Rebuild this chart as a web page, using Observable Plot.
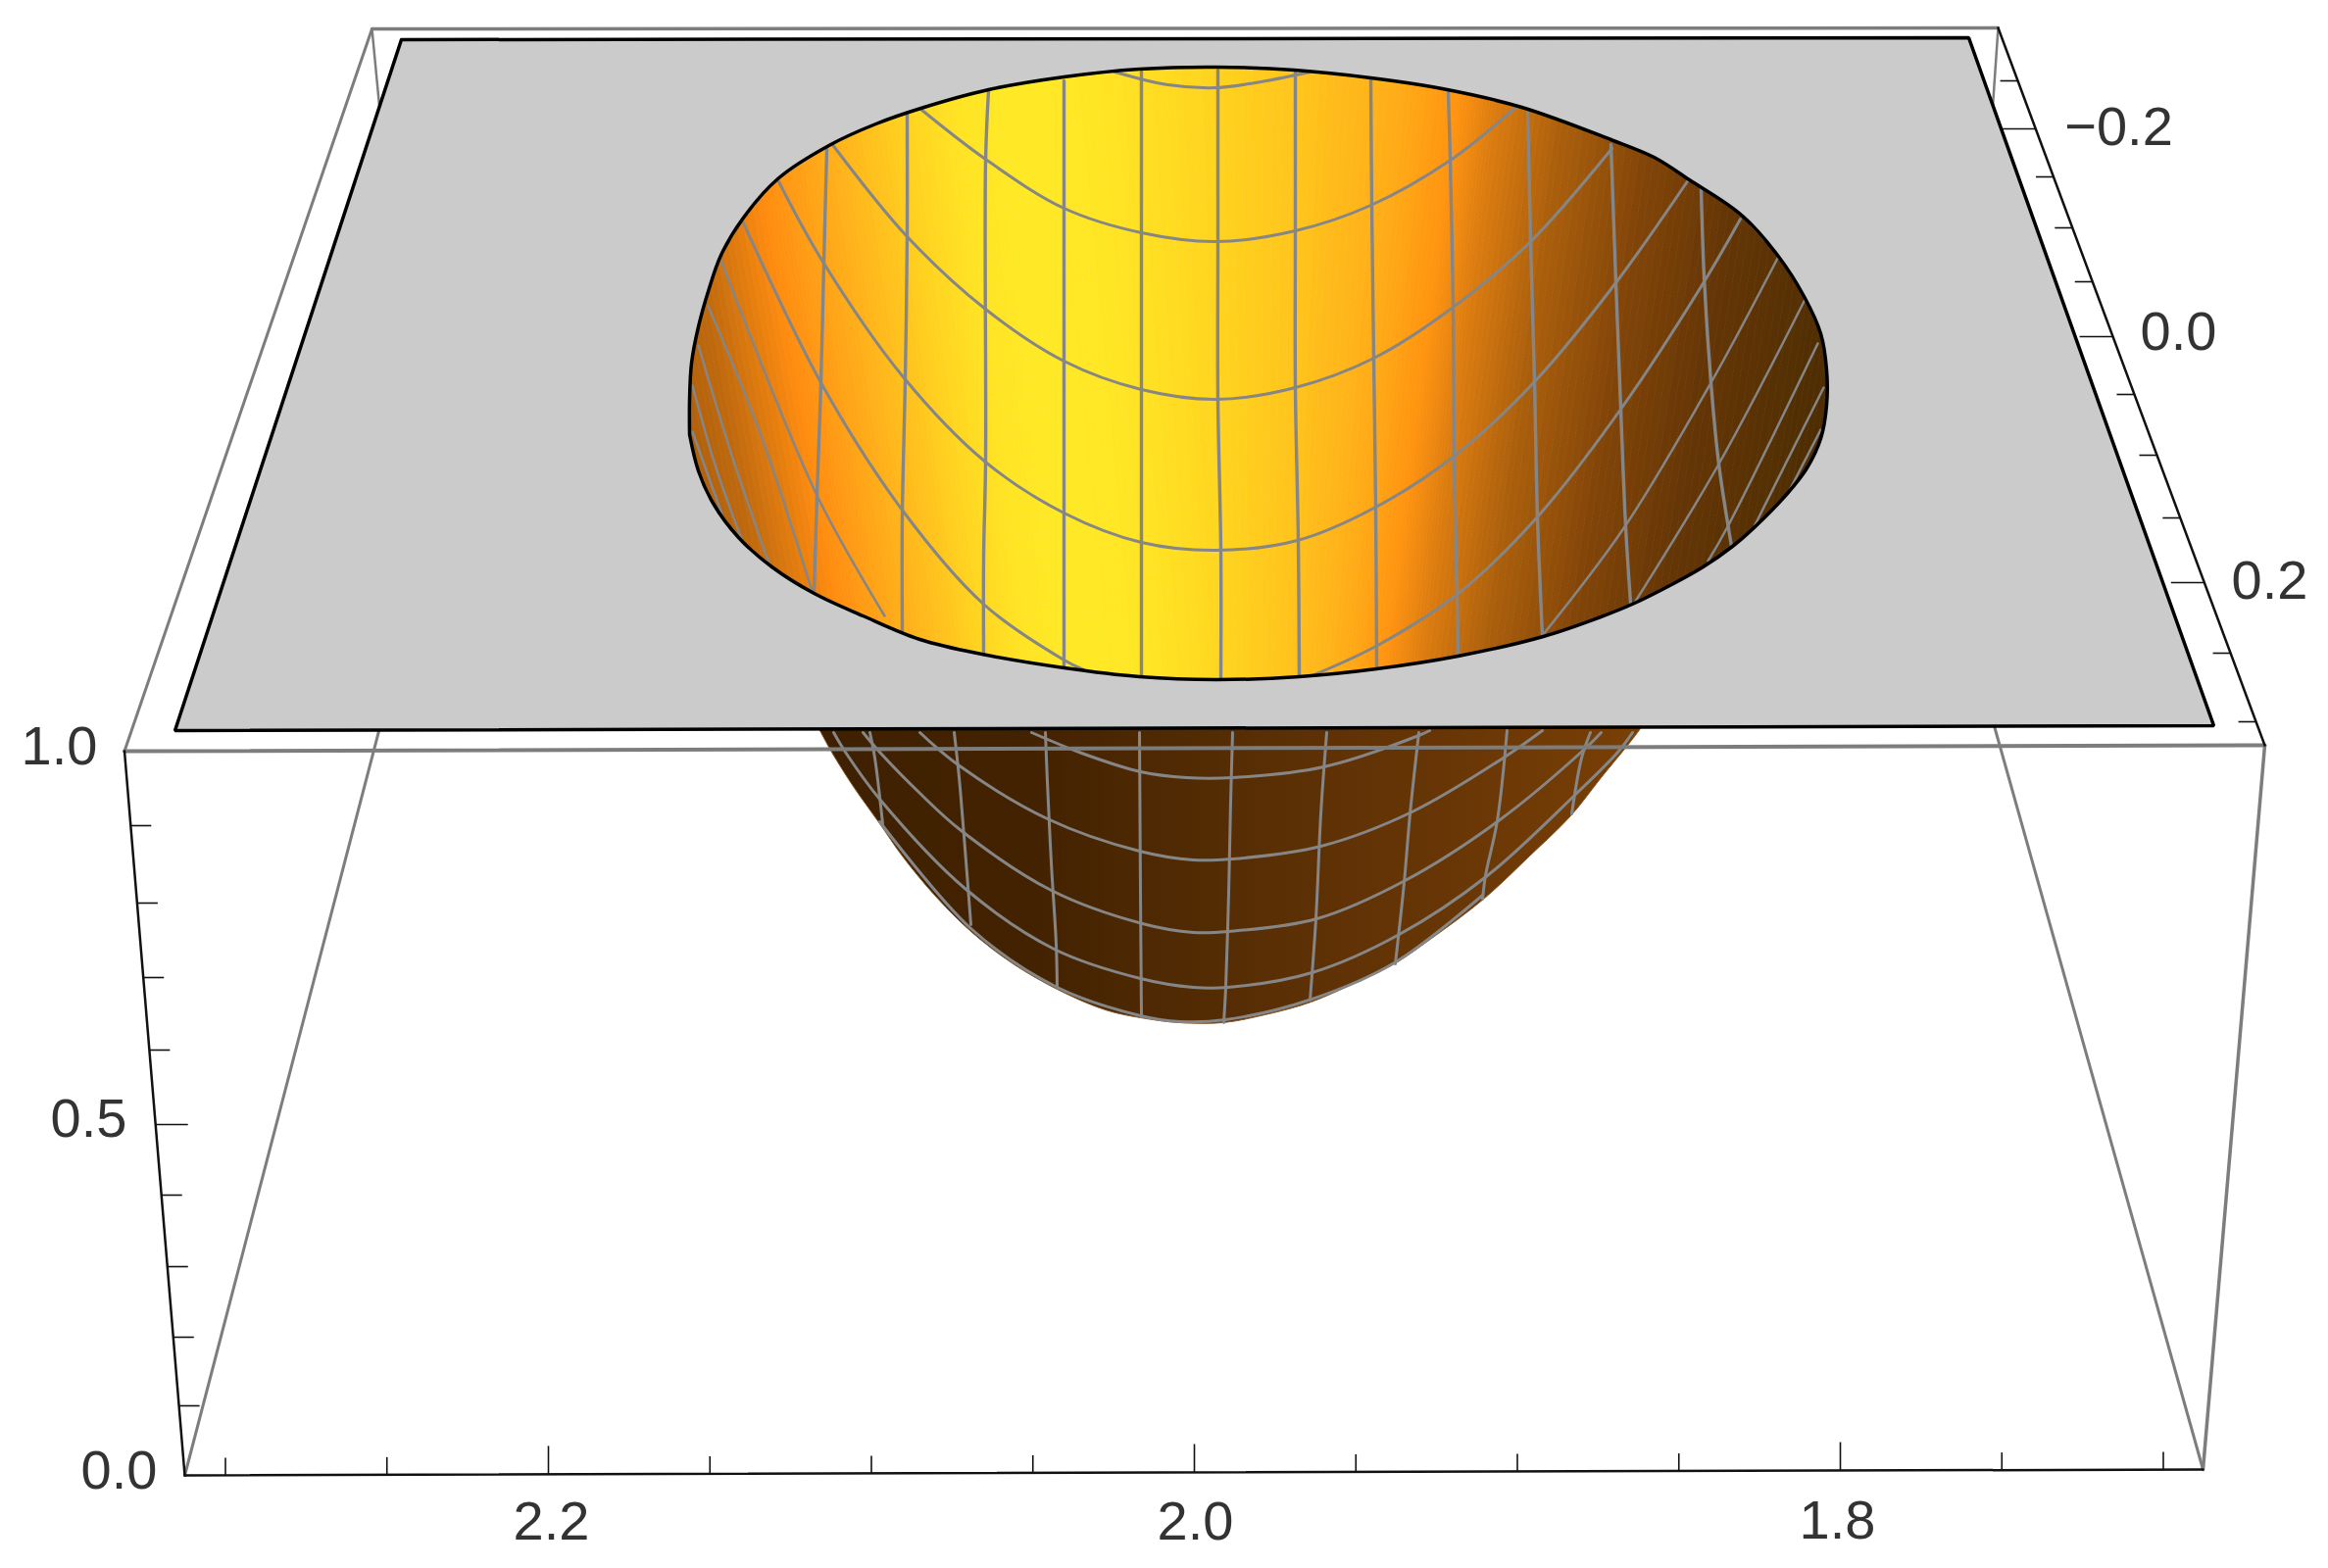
<!DOCTYPE html>
<html>
<head>
<meta charset="utf-8">
<script src="https://cdn.jsdelivr.net/npm/d3@7"></script>
<script src="https://cdn.jsdelivr.net/npm/@observablehq/plot@0.6"></script>
<style>html,body{margin:0;padding:0;background:#fff}svg{display:block}</style>
</head>
<body>
<div id="chart"></div>
<script>
const W = 2375, H = 1600;
const cornerFrontTopLeft = [126.5, 766], cornerFrontTopRight = [2310, 760];
const cornerFrontBottomLeft = [188, 1505], cornerFrontBottomRight = [2247, 1499];
const cornerBackTopLeft = [379, 29], cornerBackTopRight = [2038, 28];
const cornerBackBottomLeft = [431, 573], cornerBackBottomRight = [1998, 612];
const planeCorners = [[409, 40], [2008, 38], [2258, 740], [178, 745]];

// axis tick values and where they sit on their edges
const xMinorTicks = [2.3, 2.25, 2.15, 2.1, 2.05, 1.95, 1.9, 1.85, 1.75, 1.7];
const xMajorTicks = [2.2, 2.0, 1.8];
const zTickValues = [0.1, 0.2, 0.3, 0.4, 0.5, 0.6, 0.7, 0.8, 0.9];
const zTickRows = [1434, 1364, 1292, 1219, 1147, 1071, 997, 921, 842];
const yTickValues = [-0.25, -0.2, -0.15, -0.1, -0.05, 0, 0.05, 0.1, 0.15, 0.2, 0.25, 0.3];
const yTickRows = [82, 131, 180, 232, 287, 343, 402, 464, 528, 594, 666, 736];

const xLabels = [["2.2", 562, 1553], ["2.0", 1219, 1553], ["1.8", 1874, 1552]];
const zLabels = [["1.0", 60, 762], ["0.5", 90, 1142], ["0.0", 121, 1501]];
const yLabels = [["\u22120.2", 2161, 130], ["0.0", 2222, 339], ["0.2", 2315, 593]];

// hole in the gray plane
const rim = [[703,443],[712,480],[727,513],[753,548],[787,578],[830,605],[880,628],[938,652],[1001,667],[1085,681],[1162,690],[1240,693],[1325,690],[1404,682],[1487,669],[1574,649],[1630,630],[1667,615],[1703,597],[1737,578],[1767,557],[1790,537],[1823,503],[1843,477],[1857,447],[1863,413],[1863,377],[1857,340],[1840,302],[1813,260],[1775,218],[1723,183],[1687,160],[1643,142],[1552,109],[1476,91],[1398,79],[1320,71],[1240,68],[1162,70],[1085,78],[1008,91],[939,110],[893,126],[847,147],[793,182],[757,223],[735,260],[722,297],[712,333],[705,370],[703,407],[703,443]];

// upper bowl colour bands: position at mid height, lean, colour
const bandX = [670,735,810,855,910,965,1010,1060,1140,1220,1320,1396,1450,1490,1557,1646,1736,1830,1900];
const bandLean = [.19,.185,.178,.165,.15,.13,.12,.11,.09,.05,-.03,-.09,-.128,-.13,-.14,-.15,-.16,-.17,-.17];
const bandColor = ["#a85a0a","#c06a0e","#ff8c10","#ffa217","#ffbc1c","#ffd520","#ffe424","#ffe926","#ffe625","#ffd820","#ffc41c","#ffad18","#ff9410","#dc7c10","#ab5f0c","#824508","#653606","#533003","#4a2903"];

// lower bowl
const bowl = [[825,725],[837,747],[848,767],[870,802],[897,840],[920,873],[953,913],[990,950],[1033,983],[1080,1010],[1127,1030],[1163,1038],[1203,1043],[1247,1043],[1290,1035],[1337,1022],[1387,1000],[1422,983],[1460,957],[1513,917],[1560,873],[1602,832],[1633,793],[1660,760],[1673,743],[1685,725]];
const bowlStopX = [830, 1050, 1200, 1320, 1500, 1680];
const bowlStopColor = ["#3e2000", "#432201", "#502a03", "#5c3005", "#6a3705", "#7a4006"];

// upper bowl mesh
const upperVerticals = [
 [[843,152],[840,267],[837,390],[833,505],[830,603]],
 [[925,115],[925,239],[923,387],[920,526],[920,643]],
 [[1008,92],[1005,164],[1005,471],[1003,568],[1003,667]],
 [[1085,82],[1085,681]],
 [[1164,73],[1164,688]],
 [[1242,71],[1242,246],[1242,406],[1245,561],[1245,692]],
 [[1321,73],[1321,235],[1321,395],[1324,551],[1325,690]],
 [[1398,79],[1399,210],[1401,366],[1403,517],[1404,681]],
 [[1477,92],[1479,162],[1482,313],[1483,465],[1486,606],[1487,669]],
 [[1558,113],[1561,246],[1565,389],[1568,528],[1573,648]],
 [[1643,147],[1648,288],[1653,417],[1658,537],[1663,615]],
 [[1735,192],[1738,282],[1745,390],[1753,473],[1766,557]]
];
const upperCurves = [
 [[1137,73],[1191,86],[1240,89],[1280,84],[1336,73]],
 [[939,111],[1005,162],[1085,212],[1164,237],[1240,246],[1321,235],[1398,209],[1479,163],[1546,109]],
 [[848,146],[925,241],[1005,315],[1085,368],[1164,397],[1240,407],[1321,395],[1401,365],[1482,313],[1561,246],[1644,151]],
 [[793,183],[838,265],[920,383],[1005,471],[1085,523],[1164,553],[1240,561],[1323,551],[1403,517],[1483,465],[1565,389],[1648,288],[1722,183]],
 [[757,225],[837,390],[920,520],[1003,616],[1085,673],[1105,683]],
 [[1338,689],[1405,658],[1486,606],[1567,528],[1653,417],[1738,287],[1775,223]]
];
const upperOuterCurves = [
 [[735,265],[833,505],[902,628]],
 [[722,312],[777,447],[828,603]],
 [[712,352],[747,467],[785,577]],
 [[706,393],[730,477],[757,552]],
 [[706,440],[737,527]],
 [[1573,648],[1657,537],[1745,390],[1813,263]],
 [[1668,613],[1753,473],[1841,305]],
 [[1742,572],[1762,537],[1854,350]],
 [[1790,535],[1860,395]],
 [[1825,500],[1857,438]]
];

// lower bowl mesh
const lowerVerticals = [
 [[887,747],[892,773],[900,840]],
 [[973,747],[978,793],[983,853],[990,943]],
 [[1066,747],[1068,797],[1072,880],[1077,963],[1078,1008]],
 [[1162,747],[1163,910],[1164,1037]],
 [[1257,747],[1255,817],[1253,910],[1250,1007],[1248,1043]],
 [[1353,747],[1347,830],[1342,937],[1336,1020]],
 [[1447,747],[1438,830],[1432,900],[1423,983]],
 [[1537,745],[1527,837],[1515,893],[1512,917]],
 [[1622,747],[1613,773],[1603,830]]
];
const lowerCurves = [
 [[1052,747],[1103,768],[1163,787],[1210,793],[1257,793],[1350,782],[1447,750],[1458,745]],
 [[938,747],[977,780],[1068,835],[1162,868],[1217,877],[1257,876],[1347,863],[1440,828],[1533,773],[1573,745]],
 [[880,747],[897,767],[937,808],[980,847],[1072,908],[1165,942],[1217,951],[1253,950],[1343,937],[1433,898],[1527,838],[1617,763],[1633,747]],
 [[850,747],[862,767],[897,815],[985,907],[1075,968],[1163,998],[1217,1007],[1252,1007],[1338,992],[1427,953],[1517,893],[1607,810],[1650,767],[1665,747]],
 [[897,838],[990,947],[1078,1007],[1163,1036],[1203,1042],[1250,1040],[1335,1020],[1422,982],[1512,913]]
];

// ---- tables built from the arrays above
const MIDROW = 380, HALF = 320, STEPS = 12;
const xTickAt = d3.scaleLinear([2.0, 1.8], [1218, 1877]);
const rowOnEdge = (a, b) => y => a[0] + (b[0] - a[0]) * (y - a[1]) / (b[1] - a[1]);
const bottomRow = x => cornerFrontBottomLeft[1] + (cornerFrontBottomRight[1] - cornerFrontBottomLeft[1]) * (x - cornerFrontBottomLeft[0]) / (cornerFrontBottomRight[0] - cornerFrontBottomLeft[0]);
const zEdge = rowOnEdge(cornerFrontTopLeft, cornerFrontBottomLeft);
const yEdge = rowOnEdge(cornerBackTopRight, cornerFrontTopRight);

const bandPolys = [];
bandX.slice(0, -1).forEach((x, i) => {
  const mix = d3.interpolateRgb(bandColor[i], bandColor[i + 1]);
  for (let k = 0; k < STEPS; ++k) {
    const p = k / STEPS, q = (k + 1) / STEPS;
    const at = t => [x + (bandX[i + 1] - x) * t, bandLean[i] + (bandLean[i + 1] - bandLean[i]) * t];
    const [xa, la] = at(p), [xb, lb] = at(q);
    const id = `${i}-${k}`, c = d3.color(mix((p + q) / 2)).formatHex();
    bandPolys.push(
      {id, c, x: xa - HALF * la, y: MIDROW - HALF}, {id, c, x: xb - HALF * lb, y: MIDROW - HALF},
      {id, c, x: xb + HALF * lb, y: MIDROW + HALF}, {id, c, x: xa + HALF * la, y: MIDROW + HALF});
  }
});

const px = d => d[0], py = d => d[1];
const curves = (list, stroke, strokeWidth, curve = "catmull-rom") =>
  list.map(pts => Plot.line(pts, {x: px, y: py, stroke, strokeWidth, curve}));
const edge = (a, b, stroke, strokeWidth) => Plot.line([a, b], {x: px, y: py, stroke, strokeWidth});

const planeHole = [planeCorners[0], planeCorners[1], planeCorners[2], planeCorners[3], ...rim, planeCorners[3]];
const GRID = "#868686", EDGE = "#7d7d7d", INK = "#111";

const labels = [...xLabels, ...zLabels, ...yLabels];

const bowlGradient = () => {
  const g = d3.create("svg:linearGradient").attr("id", "bowlFill")
    .attr("gradientUnits", "userSpaceOnUse").attr("x1", 0).attr("x2", W).attr("y1", 0).attr("y2", 0);
  bowlStopX.forEach((x, i) => g.append("stop").attr("offset", x / W).attr("stop-color", bowlStopColor[i]));
  return g.node();
};

const chart = Plot.plot({
  width: W, height: H, margin: 0,
  x: {domain: [0, W], axis: null},
  y: {domain: [H, 0], axis: null},
  color: {type: "identity"},
  style: {background: "#fff", overflow: "visible"},
  marks: [
    bowlGradient,
    // hidden back edges of the box
    edge(cornerBackTopLeft, cornerBackBottomLeft, EDGE, 2.5),
    edge(cornerBackTopRight, cornerBackBottomRight, EDGE, 2.5),
    edge(cornerFrontBottomLeft, cornerBackBottomLeft, EDGE, 3),
    edge(cornerFrontBottomRight, cornerBackBottomRight, EDGE, 3),
    // the surface
    Plot.line(bandPolys, {x: "x", y: "y", z: "id", fill: "c", stroke: "c", strokeWidth: 1}),
    ...curves(upperVerticals, GRID, 3.4),
    ...curves(upperCurves, GRID, 3),
    ...curves(upperOuterCurves, GRID, 2.5),
    Plot.line(bowl, {x: px, y: py, curve: "catmull-rom", fill: "url(#bowlFill)", stroke: "#8a5a2c", strokeWidth: 1}),
    ...curves(lowerVerticals, GRID, 3),
    ...curves(lowerCurves, GRID, 3),
    // gray plane with its hole
    Plot.line(planeHole, {x: px, y: py, fill: "#cbcbcb", stroke: "#cbcbcb", strokeWidth: 1}),
    Plot.line(rim, {x: px, y: py, stroke: "#000", strokeWidth: 3.5, curve: "catmull-rom"}),
    Plot.line([...planeCorners, planeCorners[0]], {x: px, y: py, stroke: "#000", strokeWidth: 3.5, strokeLinejoin: "miter"}),
    // box front
    edge(cornerBackTopLeft, cornerBackTopRight, EDGE, 3.5),
    edge(cornerFrontTopLeft, cornerBackTopLeft, EDGE, 3),
    edge(cornerFrontTopLeft, cornerFrontTopRight, EDGE, 4),
    edge(cornerFrontBottomRight, cornerFrontTopRight, EDGE, 3.5),
    edge(cornerFrontTopLeft, cornerFrontBottomLeft, INK, 2.5),
    edge(cornerFrontBottomLeft, cornerFrontBottomRight, INK, 2.5),
    edge(cornerBackTopRight, cornerFrontTopRight, INK, 2.5),
    // ticks
    Plot.link(xMinorTicks, {x1: xTickAt, x2: xTickAt, y1: d => bottomRow(xTickAt(d)), y2: d => bottomRow(xTickAt(d)) - 18, stroke: INK, strokeWidth: 1.6}),
    Plot.link(xMajorTicks, {x1: xTickAt, x2: xTickAt, y1: d => bottomRow(xTickAt(d)), y2: d => bottomRow(xTickAt(d)) - 29, stroke: INK, strokeWidth: 1.6}),
    Plot.link(zTickValues, {x1: (d, i) => zEdge(zTickRows[i]), x2: (d, i) => zEdge(zTickRows[i]) + (d === 0.5 ? 33 : 21), y1: (d, i) => zTickRows[i], y2: (d, i) => zTickRows[i], stroke: INK, strokeWidth: 1.6}),
    Plot.link(yTickValues, {x1: (d, i) => yEdge(yTickRows[i]), x2: (d, i) => yEdge(yTickRows[i]) - (Math.abs(d * 10) % 2 < 1e-9 ? 34 : 18), y1: (d, i) => yTickRows[i], y2: (d, i) => yTickRows[i], stroke: INK, strokeWidth: 1.6}),
    // labels
    Plot.text(labels, {x: d => d[1], y: d => d[2], text: d => d[0], textAnchor: "middle", lineAnchor: "middle", fontSize: 56, fontFamily: "Liberation Sans", fill: "#333"})
  ]
});
document.getElementById("chart").append(chart);
</script>
</body>
</html>
